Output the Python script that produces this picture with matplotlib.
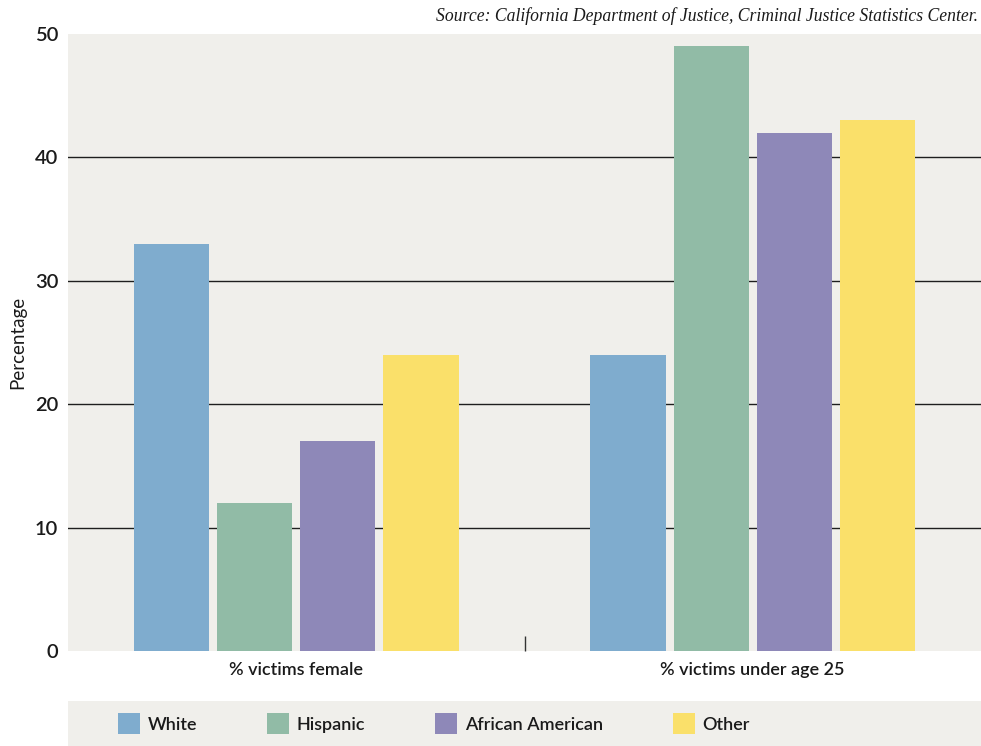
import matplotlib.pyplot as plt
import numpy as np
from matplotlib.patches import Patch

categories = ["% victims female", "% victims under age 25"]
groups = ["White", "Hispanic", "African American", "Other"]
white = [33, 24]
hispanic = [12, 49]
african_american = [17, 42]
other = [24, 43]
colors = ["#7FACCE", "#91BBA6", "#8E88B8", "#FAE06A"]

bg = "#F0EFEB"
plt.rcParams["font.family"] = ["Lato", "DejaVu Sans"]
plt.rcParams["font.weight"] = "semibold"
txt = "#1a1a1a"

fig = plt.figure(figsize=(9.81, 7.46), dpi=100)
ax = fig.add_axes([68 / 981, 95 / 746, 913 / 981, 617 / 746])
ax.set_facecolor(bg)

x = np.arange(len(categories))
width = 0.165
step = 0.182
series = [white, hispanic, african_american, other]
for i, (vals, col) in enumerate(zip(series, colors)):
    ax.bar(x + (i - 1.5) * step, vals, width, color=col, zorder=2)

ax.set_xlim(-0.5, 1.5)
ax.set_ylim(0, 50)
ax.set_yticks([0, 10, 20, 30, 40, 50])
ax.set_yticklabels(["0", "10", "20", "30", "40", "50"], fontsize=14.5, color=txt)
for v in [10, 20, 30, 40]:
    ax.axhline(v, color="#1e1e1e", lw=1.0, zorder=1)

ax.set_xticks(x)
ax.set_xticklabels(categories, fontsize=13, color=txt)
ax.set_xticks([0.5], minor=True)
ax.tick_params(axis="x", which="major", length=0, pad=8)
ax.tick_params(axis="x", which="minor", direction="in", length=11, width=1, color="#333333")
ax.tick_params(axis="y", length=0, pad=7)
for s in ax.spines.values():
    s.set_visible(False)

ax.set_ylabel("Percentage", fontsize=13.5, labelpad=6, color=txt)

fig.text(0.997, 0.978, "Source: California Department of Justice, Criminal Justice Statistics Center.",
         ha="right", va="center", fontsize=12.7, style="italic", family="Liberation Serif",
         weight="normal", color=txt)

lax = fig.add_axes([68 / 981, 0, 913 / 981, 45 / 746])
lax.set_facecolor(bg)
lax.set_xticks([])
lax.set_yticks([])
for s in lax.spines.values():
    s.set_visible(False)
handles = [Patch(facecolor=c, edgecolor="none", label=g) for g, c in zip(groups, colors)]
leg = lax.legend(handles=handles, ncol=4, loc="center left", bbox_to_anchor=(0.0548, 0.5), frameon=False,
                 fontsize=13, handlelength=1.22, handleheight=1.33, handletextpad=0.44,
                 columnspacing=3.85, borderaxespad=0, borderpad=0)
for t in leg.get_texts():
    t.set_color(txt)

fig.savefig("out.png", dpi=100, facecolor="white")
